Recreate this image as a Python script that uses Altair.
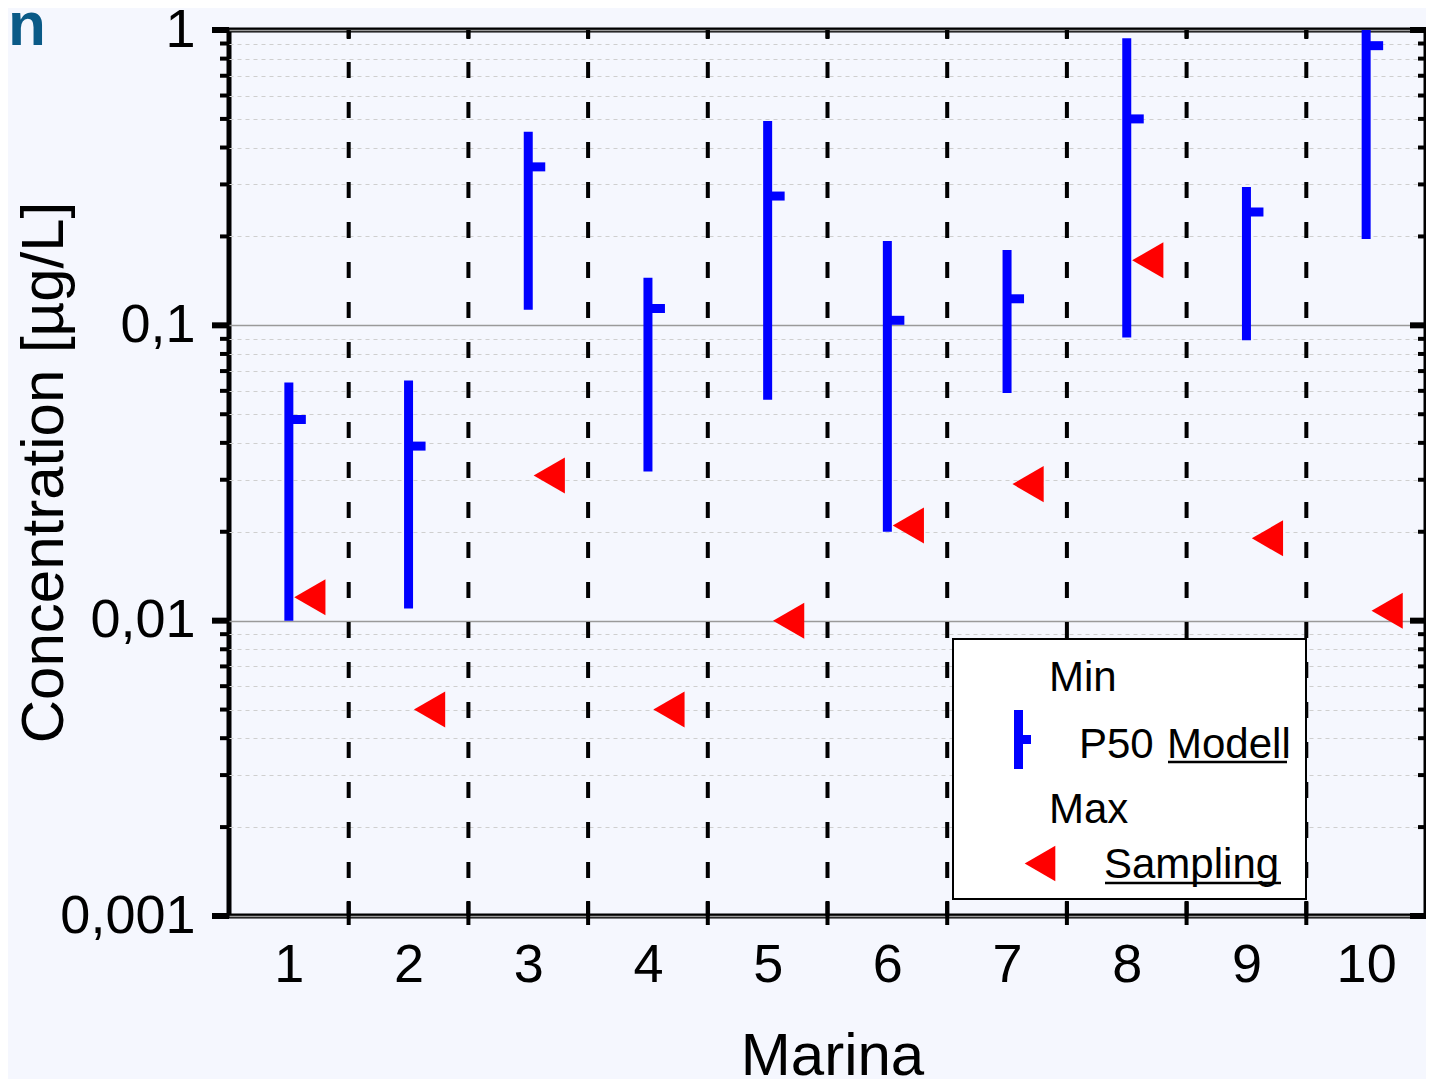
import altair as alt
import pandas as pd

# ---- data ----
marina = [1, 2, 3, 4, 5, 6, 7, 8, 9, 10]
conc_min = [0.010, 0.011, 0.113, 0.032, 0.056, 0.020, 0.059, 0.091, 0.089, 0.196]
conc_p50 = [0.048, 0.039, 0.344, 0.114, 0.274, 0.104, 0.123, 0.50, 0.242, 0.885]
conc_max = [0.064, 0.065, 0.452, 0.145, 0.492, 0.193, 0.180, 0.937, 0.294, 1.0]
sampling = [0.012, 0.005, 0.031, 0.005, 0.010, 0.021, 0.029, 0.166, 0.019, 0.0108]

major_ticks = [1, 0.1, 0.01, 0.001]
minor_ticks = [0.9, 0.8, 0.7, 0.6, 0.5, 0.4, 0.3, 0.2,
               0.09, 0.08, 0.07, 0.06, 0.05, 0.04, 0.03, 0.02,
               0.009, 0.008, 0.007, 0.006, 0.005, 0.004, 0.003, 0.002]
boundaries = [1.5, 2.5, 3.5, 4.5, 5.5, 6.5, 7.5, 8.5, 9.5]

W, H = 1197, 886
FONT = "Liberation Sans"
BG = "#f5f7fe"
BLUE = "#0000ff"
RED = "#ff0000"

df = pd.DataFrame({"marina": marina, "cmin": conc_min, "p50": conc_p50,
                   "cmax": conc_max, "sampling": sampling})
df_major = pd.DataFrame({"v": major_ticks})
df_minor = pd.DataFrame({"v": minor_ticks})
df_bound = pd.DataFrame({"b": boundaries})
one = pd.DataFrame({"k": [0]})

xs = alt.Scale(domain=[0.5, 10.5], nice=False, zero=False)
ys = alt.Scale(type="log", domain=[0.001, 1], nice=False)

label_expr = ("datum.value == 1 ? '1' : datum.value == 0.1 ? '0,1' : "
              "datum.value == 0.01 ? '0,01' : datum.value == 0.001 ? '0,001' : ''")
major_test = ("datum.value == 1 || datum.value == 0.1 || "
              "datum.value == 0.01 || datum.value == 0.001")

y_axis = alt.Axis(
    values=major_ticks + minor_ticks, labelExpr=label_expr,
    labelFontSize=54, labelFont=FONT, labelColor="black", labelPadding=34,
    ticks=False, tickSize=0, domain=False, labelOverlap=False,
    grid=True,
    gridColor={"condition": {"test": major_test, "value": "#9a9a9a"}, "value": "#cfcfcf"},
    gridDash={"condition": {"test": major_test, "value": []}, "value": [4, 4]},
    gridWidth={"condition": {"test": major_test, "value": 1.5}, "value": 1},
    title="Concentration [µg/L]", titleFontSize=60, titleFont=FONT,
    titleFontWeight="normal", titleColor="black", titleAngle=270,
    titleAlign="center", titleBaseline="alphabetic", titleX=-167, titleY=442,
)
x_axis = alt.Axis(
    values=marina, format="d", labelFontSize=54, labelFont=FONT, labelColor="black",
    labelPadding=22, ticks=False, tickSize=0, domain=False, grid=False,
    labelFlush=False, labelAngle=0,
    title="Marina", titleFontSize=60, titleFont=FONT, titleFontWeight="normal",
    titleColor="black", titleBaseline="alphabetic", titleX=603, titleY=158,
)


def X(field):
    return alt.X(field, scale=xs, axis=x_axis, title="Marina")


def Y(field):
    return alt.Y(field, scale=ys, axis=y_axis, title="Concentration [µg/L]")


base = alt.Chart(df)

ranges = base.mark_rule(color=BLUE, strokeWidth=9, strokeCap="butt").encode(
    x=X("marina:Q"), y=Y("cmin:Q"), y2="cmax:Q",
)
p50 = base.mark_tick(color=BLUE, orient="horizontal", size=17, thickness=9,
                     xOffset=8.5, opacity=1).encode(x=X("marina:Q"), y=Y("p50:Q"))
samp = base.mark_point(shape="triangle-left", filled=True, size=1300, color=RED,
                       opacity=1, strokeWidth=0, xOffset=21).encode(
    x=X("marina:Q"), y=Y("sampling:Q"))

separators = alt.Chart(df_bound).mark_rule(
    color="black", strokeWidth=4, strokeDash=[16, 24], strokeDashOffset=8
).encode(x=X("b:Q"), y=alt.value(0), y2=alt.value(H))

top_ticks = alt.Chart(df_bound).mark_rule(color="black", strokeWidth=4).encode(
    x=X("b:Q"), y=alt.value(0), y2=alt.value(9))
bottom_ticks = alt.Chart(df_bound).mark_rule(color="black", strokeWidth=4).encode(
    x=X("b:Q"), y=alt.value(H - 15), y2=alt.value(H + 9))

left_major = alt.Chart(df_major).mark_rule(color="black", strokeWidth=6).encode(
    y=Y("v:Q"), x=alt.value(0), x2=alt.value(-17))
left_minor = alt.Chart(df_minor).mark_rule(color="black", strokeWidth=4).encode(
    y=Y("v:Q"), x=alt.value(0), x2=alt.value(-9))
right_major = alt.Chart(df_major).mark_rule(color="black", strokeWidth=6).encode(
    y=Y("v:Q"), x=alt.value(W), x2=alt.value(W - 16))
right_minor = alt.Chart(df_minor).mark_rule(color="black", strokeWidth=4).encode(
    y=Y("v:Q"), x=alt.value(W), x2=alt.value(W - 8))

# ---- custom legend ----
lg = alt.Chart(one)
legend_box = lg.mark_rect(fill="white", stroke="black", strokeWidth=2).encode(
    x=alt.value(724), x2=alt.value(1077), y=alt.value(609), y2=alt.value(869))


def ltext(txt, x, y):
    return lg.mark_text(text=txt, align="left", baseline="middle", fontSize=42,
                        font=FONT, color="black").encode(x=alt.value(x), y=alt.value(y))


legend_parts = [
    ltext("Min", 820, 648),
    ltext("P50", 850, 715),
    ltext("Modell", 938, 715),
    ltext("Max", 820, 780),
    ltext("Sampling", 875, 835),
    lg.mark_rule(color="black", strokeWidth=2.5).encode(
        x=alt.value(939), x2=alt.value(1058), y=alt.value(732)),
    lg.mark_rule(color="black", strokeWidth=2.5).encode(
        x=alt.value(876), x2=alt.value(1052), y=alt.value(853)),
    lg.mark_rule(color=BLUE, strokeWidth=9, strokeCap="butt").encode(
        x=alt.value(789.5), y=alt.value(680), y2=alt.value(739)),
    lg.mark_rule(color=BLUE, strokeWidth=9, strokeCap="butt").encode(
        x=alt.value(793), x2=alt.value(802), y=alt.value(709.5)),
    lg.mark_point(shape="triangle-left", filled=True, size=1250, color=RED,
                  opacity=1, strokeWidth=0).encode(x=alt.value(811), y=alt.value(833.5)),
]

panel_tag = lg.mark_text(text="n", align="left", baseline="alphabetic", fontSize=62,
                         fontWeight="bold", font=FONT, color="#0a5a87").encode(
    x=alt.value(-221), y=alt.value(15))

chart = alt.layer(
    ranges, separators, p50, samp,
    top_ticks, bottom_ticks, left_major, left_minor, right_major, right_minor,
    legend_box, *legend_parts, panel_tag,
).properties(
    width=W, height=H, background=BG,
    padding={"left": 221, "top": 22, "right": 0, "bottom": 166},
    autosize=alt.AutoSizeParams(type="none"),
).configure_view(stroke="black", strokeWidth=5)

chart.save("out.html", embed_options={"renderer": "svg", "actions": False})
